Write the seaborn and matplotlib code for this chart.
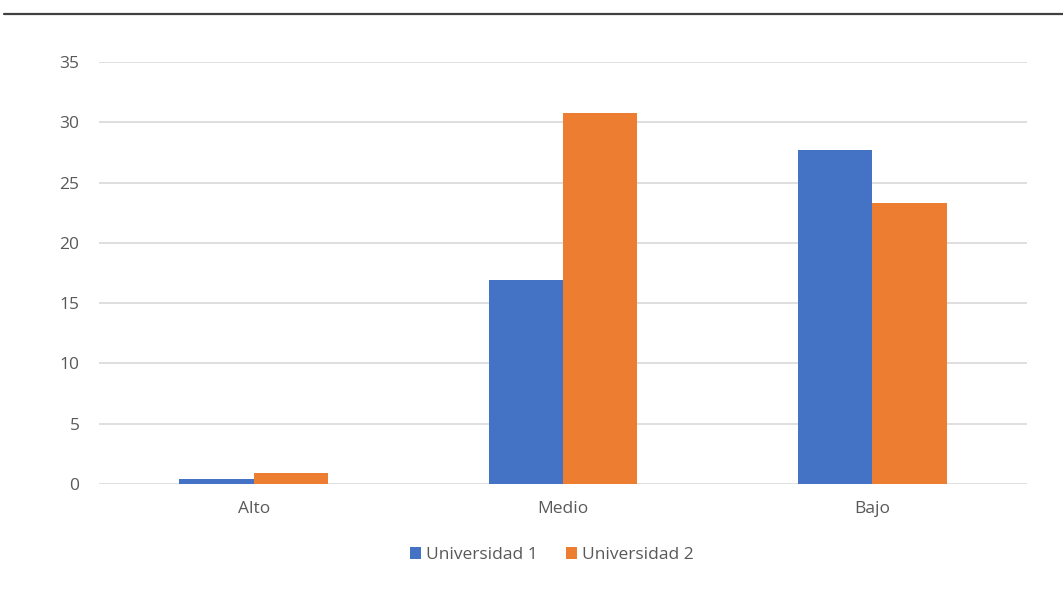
import matplotlib
matplotlib.use("Agg")
import matplotlib.pyplot as plt
import seaborn as sns
import pandas as pd
from matplotlib.lines import Line2D
from matplotlib.patches import Patch

categories = ["Alto", "Medio", "Bajo"]
series_names = ["Universidad 1", "Universidad 2"]
uni1 = [0.4, 16.9, 27.7]
uni2 = [0.9, 30.8, 23.3]
yticks = [0, 5, 10, 15, 20, 25, 30, 35]
colors = ["#4472C4", "#ED7D31"]

df = pd.DataFrame({
    "cat": categories * 2,
    "val": uni1 + uni2,
    "serie": [series_names[0]] * 3 + [series_names[1]] * 3,
})

sns.set_theme(style="white")
plt.rcParams["font.family"] = ["Open Sans", "DejaVu Sans"]

fig = plt.figure(figsize=(10.63, 5.96), dpi=100)
ax = fig.add_axes([99/1063, 1-484/596, (1027-99)/1063, (484-62)/596])

sns.barplot(data=df, x="cat", y="val", hue="serie", order=categories,
            hue_order=series_names, palette=colors, width=0.48, gap=0,
            saturation=1, ax=ax, legend=False, zorder=3, linewidth=0)

ax.set_xlim(-0.5, 2.5)
ax.set_ylim(0, 35)
ax.set_yticks(yticks)
ax.set_yticklabels([str(t) for t in yticks])
ax.grid(axis="y", color="#d9d9d9", linewidth=1.2, zorder=0)
ax.set_axisbelow(True)
for s in ax.spines.values():
    s.set_visible(False)
ax.tick_params(axis="both", length=0, labelsize=12.5, colors="#595959")
ax.tick_params(axis="y", pad=14)
ax.tick_params(axis="x", pad=12)
ax.set_xlabel("")
ax.set_ylabel("")

handles = [Patch(facecolor=c, edgecolor="none") for c in colors]
fig.legend(handles, series_names, loc="center", bbox_to_anchor=(552/1063, 1-555/596),
           ncol=2, frameon=False, fontsize=12.5, labelcolor="#595959",
           handlelength=0.65, handleheight=0.65, handletextpad=0.3, columnspacing=1.6)

fig.add_artist(Line2D([4/1063, 1], [1-13.5/596, 1-13.5/596], color="#404040", linewidth=1.6))

fig.savefig("out.png", dpi=100, facecolor="white")
